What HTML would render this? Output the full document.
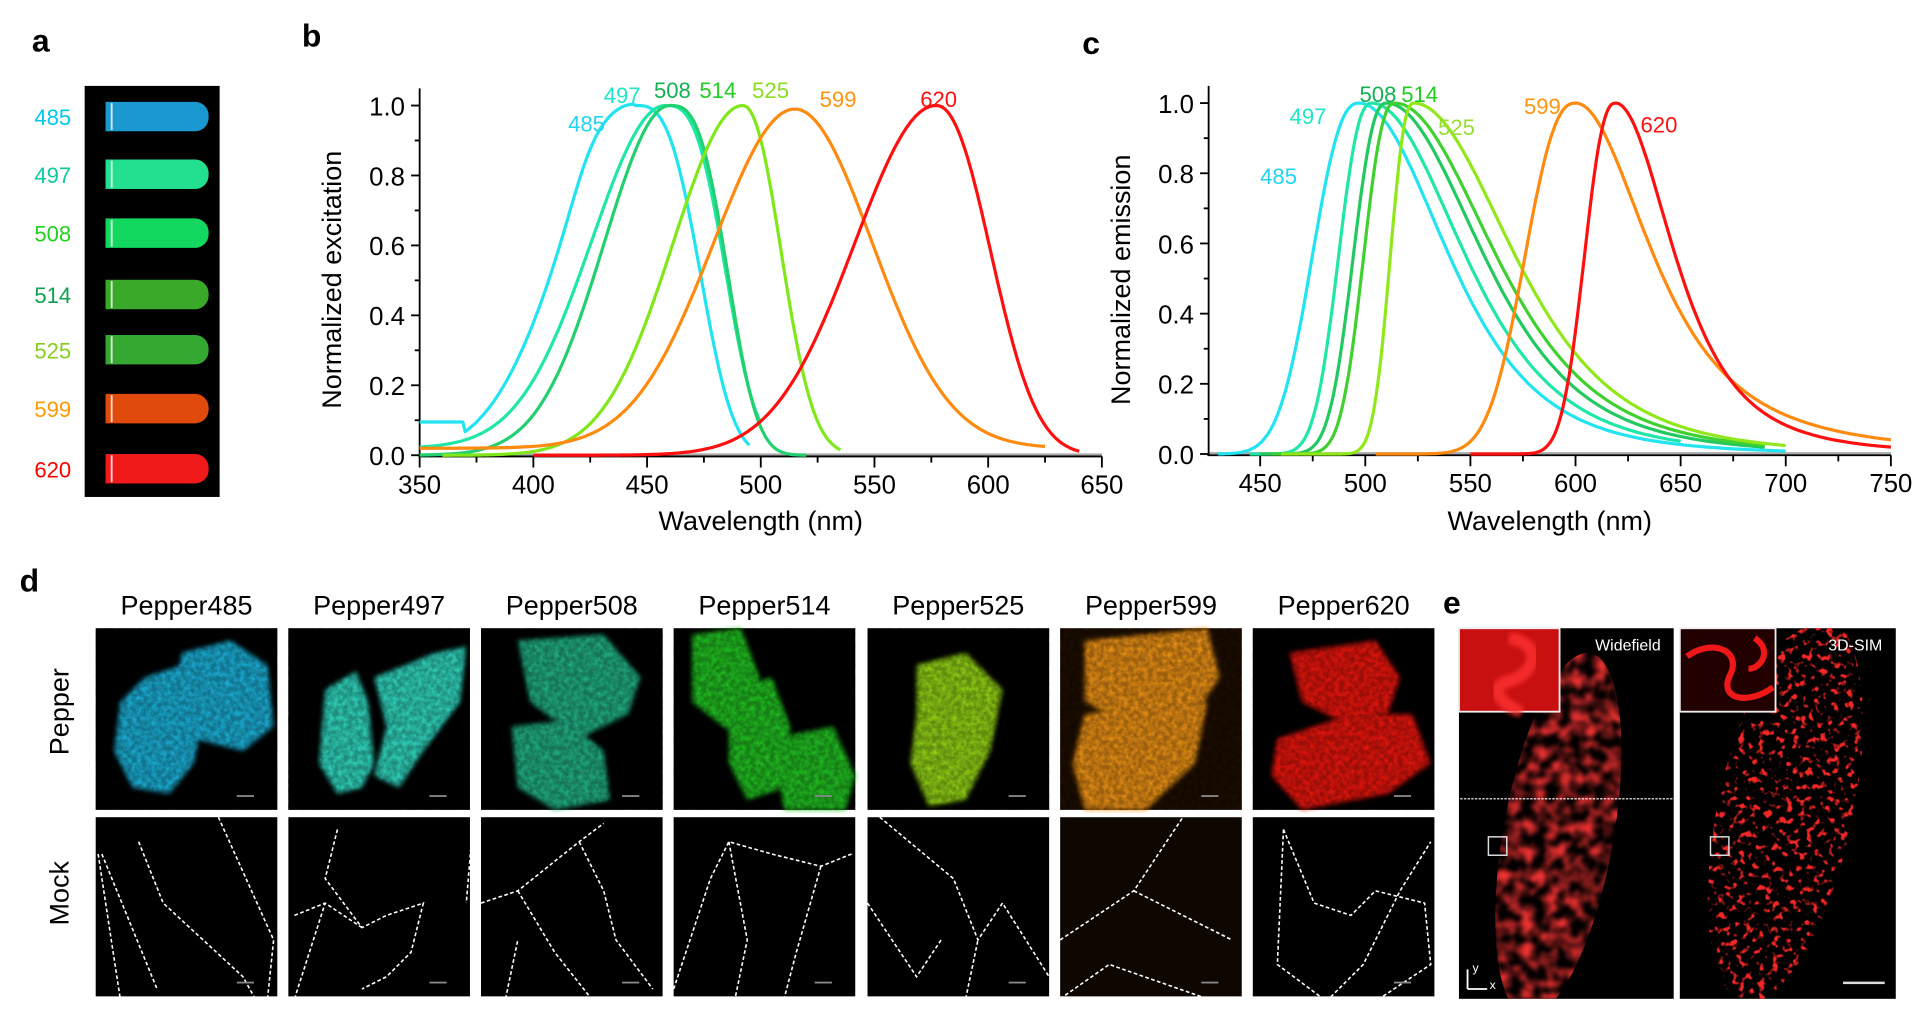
<!DOCTYPE html>
<html><head><meta charset="utf-8"><style>
html,body{margin:0;padding:0;background:#fff;}
svg{display:block;font-family:"Liberation Sans",sans-serif;}
</style></head><body>
<svg id="s" width="1924" height="1016" viewBox="0 0 1568 828" xmlns="http://www.w3.org/2000/svg">
<defs>
<filter id="tex" x="0" y="0" width="100%" height="100%">
<feTurbulence type="fractalNoise" baseFrequency="0.25" numOctaves="2" seed="3"/>
<feColorMatrix type="matrix" values="0 0 0 0 0  0 0 0 0 0  0 0 0 0 0  0 0 0 -1.6 1.5"/>
</filter>
<filter id="mito" x="0" y="0" width="100%" height="100%">
<feTurbulence type="fractalNoise" baseFrequency="0.18" numOctaves="2" seed="7"/>
<feColorMatrix type="matrix" values="0 0 0 0 0.9  0 0 0 0 0.02  0 0 0 0 0.02  0 0 0 6 -3.3"/>
</filter>
<filter id="mitob" x="0" y="0" width="100%" height="100%">
<feTurbulence type="fractalNoise" baseFrequency="0.1" numOctaves="2" seed="7"/>
<feColorMatrix type="matrix" values="0 0 0 0 0.85  0 0 0 0 0.03  0 0 0 0 0.03  0 0 0 2.5 -0.9"/>
<feGaussianBlur stdDeviation="1.5"/>
</filter>
<filter id="bl"><feGaussianBlur stdDeviation="2"/></filter>
<clipPath id="ce1"><ellipse cx="1270" cy="680" rx="45" ry="150" transform="rotate(10 1270 680)"/></clipPath>
<clipPath id="ce2"><ellipse cx="1455" cy="660" rx="55" ry="160" transform="rotate(12 1455 660)"/></clipPath>
</defs>
<g id="root"></g>
</svg>
<script>
const NS="http://www.w3.org/2000/svg";const root=document.getElementById('root');
function el(t,a,txt){const e=document.createElementNS(NS,t);for(const k in a)e.setAttribute(k,a[k]);if(txt!==undefined)e.textContent=txt;root.appendChild(e);return e;}
function T(x,y,s,txt,o={}){return el('text',Object.assign({x:x,y:y,'font-size':s},o),txt);}
T(26,42,26,'a',{'font-weight':'bold'});T(246,38,26,'b',{'font-weight':'bold'});T(882,44,26,'c',{'font-weight':'bold'});
T(16,482,26,'d',{'font-weight':'bold'});T(1176,500,26,'e',{'font-weight':'bold'});
el('rect',{x:69,y:70,width:110,height:335,fill:'#000'});
const tubes=[[95,'485','#00c8e8','#1a98d0'],[142,'497','#10c8a0','#22e090'],[190,'508','#22d022','#12d860'],[240,'514','#10a050','#3aa828'],[285,'525','#88cc22','#34a830'],[333,'599','#ff9900','#e04a0a'],[382,'620','#ff0000','#f01a1a']];
tubes.forEach(t=>{T(58,t[0]+7,18,t[1],{fill:t[2],'text-anchor':'end'});
el('rect',{x:86,y:t[0]-12,width:84,height:24,rx:11,fill:t[3]});el('rect',{x:86,y:t[0]-12,width:10,height:24,fill:t[3]});
el('line',{x1:91,y1:t[0]-11,x2:91,y2:t[0]+11,stroke:'#fff','stroke-width':1.5,opacity:0.8});});
function exc(w,p,hL,hR,ex){const d=w-p;if(d<0)return Math.exp(-Math.LN2*Math.pow(-d/hL,2));return Math.exp(-Math.LN2*Math.pow(d/hR,ex||2.6));}
function emi(w,p,hL,hR,k){k=k||1.5;const d=w-p;if(d<0)return Math.exp(-Math.LN2*Math.pow(-d/hL,2.4));const h=hR/Math.sqrt(Math.pow(2,1/k)-1);return Math.pow(1+(d/h)*(d/h),-k);}
function path(f,w0,w1,X,Y,col){let s='';for(let w=w0;w<=w1;w+=1){s+=(s?'L':'M')+X(w).toFixed(1)+','+Y(Math.max(0,f(w))).toFixed(1);}el('path',{d:s,fill:'none',stroke:col,'stroke-width':2.6,'stroke-linejoin':'round'});}
{const X=w=>342+(w-350)*556/300,Y=v=>371-v*285;
el('line',{x1:342,y1:371,x2:898,y2:371,stroke:'#aaa','stroke-width':3});
el('line',{x1:342,y1:72,x2:342,y2:372,stroke:'#000','stroke-width':1.5});
el('line',{x1:341,y1:372,x2:898,y2:372,stroke:'#000','stroke-width':1.5});
for(let w=350;w<=650;w+=25){const M=w%50==0;el('line',{x1:X(w),y1:372,x2:X(w),y2:372+(M?9:5),stroke:'#000','stroke-width':1.5});if(M)T(X(w),402,21,w,{'text-anchor':'middle'});}
for(let i=0;i<=10;i++){const v=i/10;el('line',{x1:342,y1:Y(v),x2:342-(i%2?4:7),y2:Y(v),stroke:'#000','stroke-width':1.5});if(i%2==0)T(330,Y(v)+8,21,v.toFixed(1),{'text-anchor':'end'});}
T(620,432,22,'Wavelength (nm)',{'text-anchor':'middle'});
T(0,0,22,'Normalized excitation',{'text-anchor':'middle',transform:'translate(278,228) rotate(-90)'});
path(w=>{const b=w<370?0.095:0;return Math.max(b,exc(w,445,38,29,3)+(w<445?0.05*Math.exp(-Math.pow((w-425)/12,2)):0));},350,495,X,Y,'#22e4f0');
path(w=>0.02+exc(w,458,38,27,3)*0.98,350,500,X,Y,'#20e6a8');
path(w=>exc(w,460,34,26,3),350,520,X,Y,'#22d070');
path(w=>exc(w,492,36,19,2.2),360,535,X,Y,'#80e81a');
path(w=>0.02+0.97*exc(w,515,42,40,2),350,625,X,Y,'#ff8a10');
path(w=>exc(w,577,42,27,2.2),400,640,X,Y,'#ff1010');
const L=[[507,'497','#20e6c8'],[548,'508','#12b050'],[585,'514','#22cc22'],[628,'525','#88dd22'],[683,'599','#ff9410'],[765,'620','#ff1010']];
L.forEach(l=>T(l[0],l[1]=='497'?84:l[1]=='599'||l[1]=='620'?87:80,18,l[1],{fill:l[2],'text-anchor':'middle'}));
T(478,107,18,'485',{fill:'#22d4f0','text-anchor':'middle'});}
{const X=w=>1027+(w-450)*514/300,Y=v=>370-v*286;
el('line',{x1:985,y1:370,x2:1541,y2:370,stroke:'#aaa','stroke-width':3});
el('line',{x1:985,y1:70,x2:985,y2:371,stroke:'#000','stroke-width':1.5});
el('line',{x1:984,y1:371,x2:1541,y2:371,stroke:'#000','stroke-width':1.5});
for(let w=450;w<=750;w+=25){const M=w%50==0;el('line',{x1:X(w),y1:371,x2:X(w),y2:371+(M?9:5),stroke:'#000','stroke-width':1.5});if(M)T(X(w),401,21,w,{'text-anchor':'middle'});}
for(let i=0;i<=10;i++){const v=i/10;el('line',{x1:985,y1:Y(v),x2:985-(i%2?4:7),y2:Y(v),stroke:'#000','stroke-width':1.5});if(i%2==0)T(973,Y(v)+8,21,v.toFixed(1),{'text-anchor':'end'});}
T(1263,432,22,'Wavelength (nm)',{'text-anchor':'middle'});
T(0,0,22,'Normalized  emission',{'text-anchor':'middle',transform:'translate(921,228) rotate(-90)'});
path(w=>emi(w,497,24,48,2.5),430,700,X,Y,'#22e4f0');
path(w=>emi(w,503,17,50,2.5),445,650,X,Y,'#20e6a8');
path(w=>emi(w,510,17,52,2.5),450,690,X,Y,'#22c860');
path(w=>emi(w,514,16,54,2.5),455,690,X,Y,'#40d030');
path(w=>emi(w,523,12,54,2.5),460,700,X,Y,'#90e81a');
path(w=>emi(w,600,26,42),505,750,X,Y,'#ff8a10');
path(w=>emi(w,619,16,32,1.8),550,750,X,Y,'#ff1010');
T(1066,101,18,'497',{fill:'#20e6c8','text-anchor':'middle'});
T(1123,83,18,'508',{fill:'#12b050','text-anchor':'middle'});
T(1157,83,18,'514',{fill:'#22cc22','text-anchor':'middle'});
T(1187,110,18,'525',{fill:'#99dd33','text-anchor':'middle'});
T(1042,150,18,'485',{fill:'#22d4f0','text-anchor':'middle'});
T(1257,93,18,'599',{fill:'#ff9410','text-anchor':'middle'});
T(1352,108,18,'620',{fill:'#ff1010','text-anchor':'middle'});}
const cols=[78,235,392,549,707,864,1021];
const names=['Pepper485','Pepper497','Pepper508','Pepper514','Pepper525','Pepper599','Pepper620'];
const cc=['#1ab4dc','#30dcc4','#22b488','#22c422','#96d814','#f09414','#ee1410'];
const blobs=[
[[60,50,'M20,60 L40,40 70,30 90,60 80,110 60,135 30,130 15,100Z'],[0,0,'M70,20 L110,10 140,30 145,80 120,100 80,90 65,50Z']],
[[0,0,'M30,50 L55,35 65,60 70,110 60,130 40,135 25,110Z'],[0,0,'M70,40 L120,20 145,15 140,60 110,100 90,130 70,120 80,80Z']],
[[0,0,'M30,10 L100,5 130,40 120,70 80,90 40,60Z'],[0,0,'M25,80 L70,75 100,100 105,140 60,148 30,130Z']],
[[0,0,'M15,5 L55,0 70,40 60,90 40,80 15,60Z'],[0,0,'M45,50 L80,40 95,80 90,130 60,140 45,110Z'],[0,0,'M80,90 L130,80 148,120 140,148 90,148Z']],
[[0,0,'M40,30 L80,20 110,50 100,100 80,140 50,145 35,110 40,70Z']],
[[0,0,'M20,10 L120,0 130,40 110,70 60,80 20,60Z'],[0,0,'M20,70 L80,60 120,60 110,110 70,148 20,148 10,110Z']],
[[0,0,'M30,20 L100,10 120,40 110,70 70,75 40,60Z'],[0,0,'M20,90 L80,70 130,70 145,110 110,135 40,148 15,120Z']]];
T(0,0,22,'Pepper',{'text-anchor':'middle',transform:'translate(56,580) rotate(-90)'});
T(0,0,22,'Mock',{'text-anchor':'middle',transform:'translate(56,728) rotate(-90)'});
const mocks=[
'M5,30 L50,140 M35,20 L55,70 120,130 130,148 M100,0 L145,100 140,148 M2,30 L20,148',
'M40,10 L30,50 60,90 80,80 110,70 100,110 80,130 60,140 M5,80 L30,70 60,90 M5,148 L30,70 M150,10 L145,70',
'M0,70 L30,60 80,20 100,5 M80,20 L100,60 110,100 140,140 M30,60 L60,110 90,148 M20,148 L30,100',
'M0,140 L30,50 45,20 80,30 120,40 145,30 M45,20 L60,100 50,148 M120,40 L100,110 90,148',
'M10,0 L70,50 90,100 110,70 148,130 M0,70 L40,130 60,100 M80,148 L90,100',
'M0,100 L60,60 100,0 M60,60 L140,100 M0,148 L40,120 120,148',
'M25,10 L20,120 60,150 90,120 120,60 145,20 M25,10 L50,70 80,80 100,60 140,70 145,120 100,150'];
cols.forEach((x,i)=>{T(x+74,501,22,names[i],{'text-anchor':'middle'});
el('rect',{x:x,y:512,width:148,height:148,fill:i==5?'#1e0e00':'#000'});
blobs[i].forEach(b=>{el('path',{d:b[2],fill:cc[i],transform:`translate(${x},512)`,filter:'url(#bl)'});});
el('rect',{x:x,y:512,width:148,height:148,filter:'url(#tex)',opacity:0.35});
el('rect',{x:x+115,y:648,width:14,height:1.5,fill:'#888'});
el('rect',{x:x,y:666,width:148,height:146,fill:i==5?'#0e0600':'#000'});
el('path',{d:mocks[i],fill:'none',stroke:'#fff','stroke-width':1.3,'stroke-dasharray':'3,2',transform:`translate(${x},666)`});
el('rect',{x:x+115,y:800,width:14,height:1.5,fill:'#888'});});
el('rect',{x:1189,y:512,width:175,height:302,fill:'#000'});
el('rect',{x:1369,y:512,width:176,height:302,fill:'#000'});
el('rect',{x:1189,y:512,width:175,height:302,filter:'url(#mitob)','clip-path':'url(#ce1)'});
el('rect',{x:1369,y:512,width:176,height:302,filter:'url(#mito)','clip-path':'url(#ce2)'});
el('rect',{x:1189,y:512,width:82,height:68,fill:'#c81010',stroke:'#eee','stroke-width':1.5});
el('path',{d:'M1230,520 C1260,525 1250,550 1230,555 C1210,560 1225,575 1240,580',fill:'none',stroke:'#ff3030','stroke-width':10,opacity:0.8,filter:'url(#bl)'});
el('rect',{x:1369,y:512,width:78,height:68,fill:'#220000',stroke:'#eee','stroke-width':1.5});
el('path',{d:'M1375,535 C1395,520 1420,530 1410,550 C1400,570 1425,575 1445,560 M1430,520 C1445,530 1435,545 1425,545',fill:'none',stroke:'#ee1818','stroke-width':5});
T(1300,530,13,'Widefield',{fill:'#fff'});T(1490,530,13,'3D-SIM',{fill:'#fff'});
el('line',{x1:1190,y1:651,x2:1363,y2:651,stroke:'#fff','stroke-width':1,'stroke-dasharray':'2,1'});
el('rect',{x:1213,y:682,width:15,height:15,fill:'none',stroke:'#ddd','stroke-width':1.2});
el('rect',{x:1394,y:682,width:15,height:15,fill:'none',stroke:'#ddd','stroke-width':1.2});
el('rect',{x:1502,y:800,width:34,height:2,fill:'#ddd'});
el('path',{d:'M1196,806 L1196,790 M1196,806 L1212,806',stroke:'#fff','stroke-width':1.5,fill:'none'});
T(1200,792,10,'y',{fill:'#fff'});T(1214,806,10,'x',{fill:'#fff'});
</script>
</body></html>
